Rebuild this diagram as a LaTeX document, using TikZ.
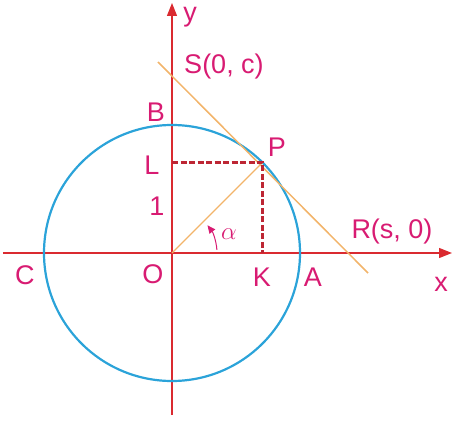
\documentclass[tikz,border=0pt]{standalone}
\usepackage{fontspec}
\setmainfont{Liberation Sans}
\usetikzlibrary{arrows.meta}
\definecolor{axisred}{HTML}{DA2A30}
\definecolor{labelpink}{HTML}{D81B72}
\definecolor{circleblue}{HTML}{2BA3D9}
\definecolor{lineorange}{HTML}{F2B46A}
\definecolor{dashred}{HTML}{BD2634}
\begin{document}
\begin{tikzpicture}[x=1pt, y=1pt]
        \tikzset{lbl/.style={text=labelpink, inner sep=0pt, font=\fontsize{27}{30}\selectfont},
            axis/.style={axisred, line width=1.4pt, -{Triangle[length=13pt, width=10pt]}},
            proj/.style={dashred, line width=3pt, dash pattern=on 6pt off 2.5pt}}
        \useasboundingbox (-172,-173) rectangle (280,253);
        \coordinate (O) at (0,0);
        \coordinate (P) at (45:128);
        \coordinate (K) at (P |- O);
        \coordinate (L) at (P -| O);
        \coordinate (T1) at (-14,191);
        \coordinate (T2) at (196,-20);
        % axes and circle
        \draw[axis] (-169,0) -- (280,0);
        \draw[axis] (0,-162) -- (0,250);
        \draw[circleblue, line width=2.2pt] (O) circle (128);
        % tangent, radius and projections
        \draw[lineorange, line width=1.5pt] (T1) -- (T2);
        \draw[lineorange, line width=1.2pt] (O) -- (P);
        \draw[proj] (L) -- (P) -- (K);
        \draw[labelpink, line width=1pt, -{Triangle[length=8pt, width=7pt]}] (4:45) arc (4:38:45);
        % labels
        \node[lbl] (ylbl) at (18,236) {y};
        \node[lbl] (S) at (52,186) {S(0, c)};
        \node[lbl] (B) at (-16,141) {B};
        \node[lbl] (Plbl) at (105,106) {P};
        \node[lbl] (Llbl) at (-20,88) {L};
        \node[lbl] (one) at (-15,47) {1};
        \node[lbl] (alpha) at (57,19) {$\alpha$};
        \node[lbl] (R) at (220,21) {R(s, 0)};
        \node[lbl] (C) at (-147,-22) {C};
        \node[lbl] (Olbl) at (-19,-21) {O};
        \node[lbl] (Klbl) at (90,-24) {K};
        \node[lbl] (A) at (141,-24) {A};
        \node[lbl] (xlbl) at (269,-31) {x};
    \end{tikzpicture}
\end{document}
